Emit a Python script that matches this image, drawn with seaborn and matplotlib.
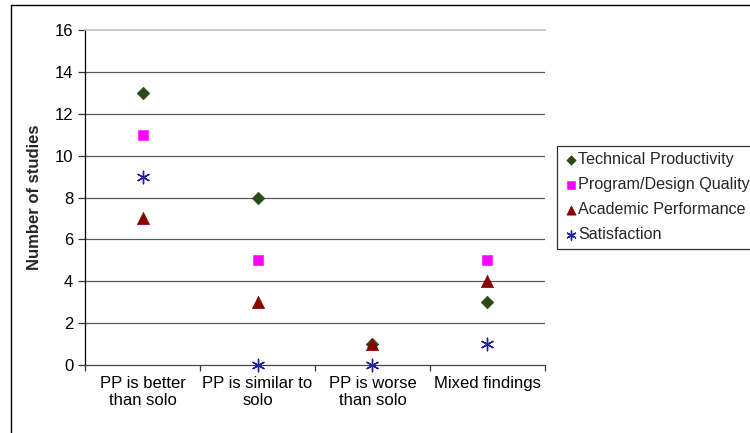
import numpy as np
import pandas as pd
import matplotlib
matplotlib.use("Agg")
import matplotlib.pyplot as plt
from matplotlib.lines import Line2D
import seaborn as sns

categories = ["PP is better\nthan solo", "PP is similar to\nsolo",
              "PP is worse\nthan solo", "Mixed findings"]
series_names = ["Technical Productivity", "Program/Design Quality",
                "Academic Performance", "Satisfaction"]
technical_productivity = [13, 8, 1, 3]
design_quality = [11, 5, np.nan, 5]
academic_performance = [7, 3, 1, 4]
satisfaction = [9, 0, 0, 1]
y_ticks = [0, 2, 4, 6, 8, 10, 12, 14, 16]

values = [technical_productivity, design_quality, academic_performance, satisfaction]
df = pd.DataFrame({
    "category": [c for _ in series_names for c in categories],
    "series": [s for s in series_names for _ in categories],
    "studies": [v for vals in values for v in vals],
}).dropna()

sns.set_theme(style="white")
plt.rcParams["font.family"] = ["Liberation Sans", "DejaVu Sans"]

fig = plt.figure(figsize=(7.5, 4.33), dpi=100)
ax = fig.add_axes([85 / 750, 1 - 365 / 433, 460 / 750, 335 / 433])

palette = {
    "Technical Productivity": "#2B4A16",
    "Program/Design Quality": "#FF00FF",
    "Academic Performance": "#8B0000",
    "Satisfaction": "#1F1FA0",
}
markers = {
    "Technical Productivity": "D",
    "Program/Design Quality": "s",
    "Academic Performance": "^",
    "Satisfaction": (6, 2, 0),
}
sizes = {"Technical Productivity": 42, "Program/Design Quality": 62,
         "Academic Performance": 80, "Satisfaction": 80}

for name in series_names:
    sub = df[df["series"] == name]
    sns.scatterplot(data=sub, x="category", y="studies", color=palette[name],
                    marker=markers[name], s=sizes[name], ax=ax,
                    linewidth=1.0 if name == "Satisfaction" else 0.4,
                    edgecolor=palette[name], clip_on=False, zorder=5,
                    label=name)

FS = 12
ax.set_xlim(-0.5, len(categories) - 0.5)
ax.set_ylim(0, 16)
ax.set_yticks(y_ticks)
ax.set_yticklabels([str(t) for t in y_ticks], fontsize=FS)
ax.set_xticks(range(len(categories)))
ax.set_xticklabels(categories, fontsize=FS, linespacing=1.15)
ax.set_xticks(np.arange(-0.5, len(categories), 1.0), minor=True)
ax.tick_params(axis="x", which="major", length=0, pad=8, colors="black")
ax.tick_params(axis="x", which="minor", length=4, width=0.9, color="#333333",
               direction="out", bottom=True)
ax.tick_params(axis="y", which="major", length=5, width=0.9, color="#333333",
               direction="out", left=True, pad=3.5)
for lbl in ax.get_yticklabels():
    lbl.set_color("black")

for t in y_ticks[1:-1]:
    ax.axhline(t, color="#5a5a5a", linewidth=0.9, zorder=1)

ax.spines["right"].set_visible(False)
ax.spines["top"].set_color("#c0c0c0")
ax.spines["top"].set_linewidth(1.2)
ax.spines["left"].set_color("black")
ax.spines["left"].set_linewidth(0.9)
ax.spines["bottom"].set_color("#444444")
ax.spines["bottom"].set_linewidth(0.9)

ax.set_xlabel("")
ax.set_ylabel("Number of studies", fontsize=12, fontweight="bold", labelpad=9)

handles, labels = ax.get_legend_handles_labels()
ax.get_legend().remove()
leg = fig.legend(handles, labels, loc="upper left",
                 bbox_to_anchor=(557 / 750, 1 - 146 / 433),
                 frameon=True, fancybox=False, fontsize=11.6,
                 handletextpad=0.0, handlelength=0.9, labelspacing=0.62,
                 borderpad=0.4, borderaxespad=0, markerscale=0.75)
leg.get_frame().set_edgecolor("black")
leg.get_frame().set_linewidth(0.9)

# outer chart frame
fig.add_artist(Line2D([11 / 750, 1.0], [1 - 5 / 433, 1 - 5 / 433],
                      transform=fig.transFigure, color="black", linewidth=1.0))
fig.add_artist(Line2D([11 / 750, 11 / 750], [0.0, 1 - 5 / 433],
                      transform=fig.transFigure, color="black", linewidth=1.0))

fig.savefig("out.png", dpi=100, facecolor="white")
